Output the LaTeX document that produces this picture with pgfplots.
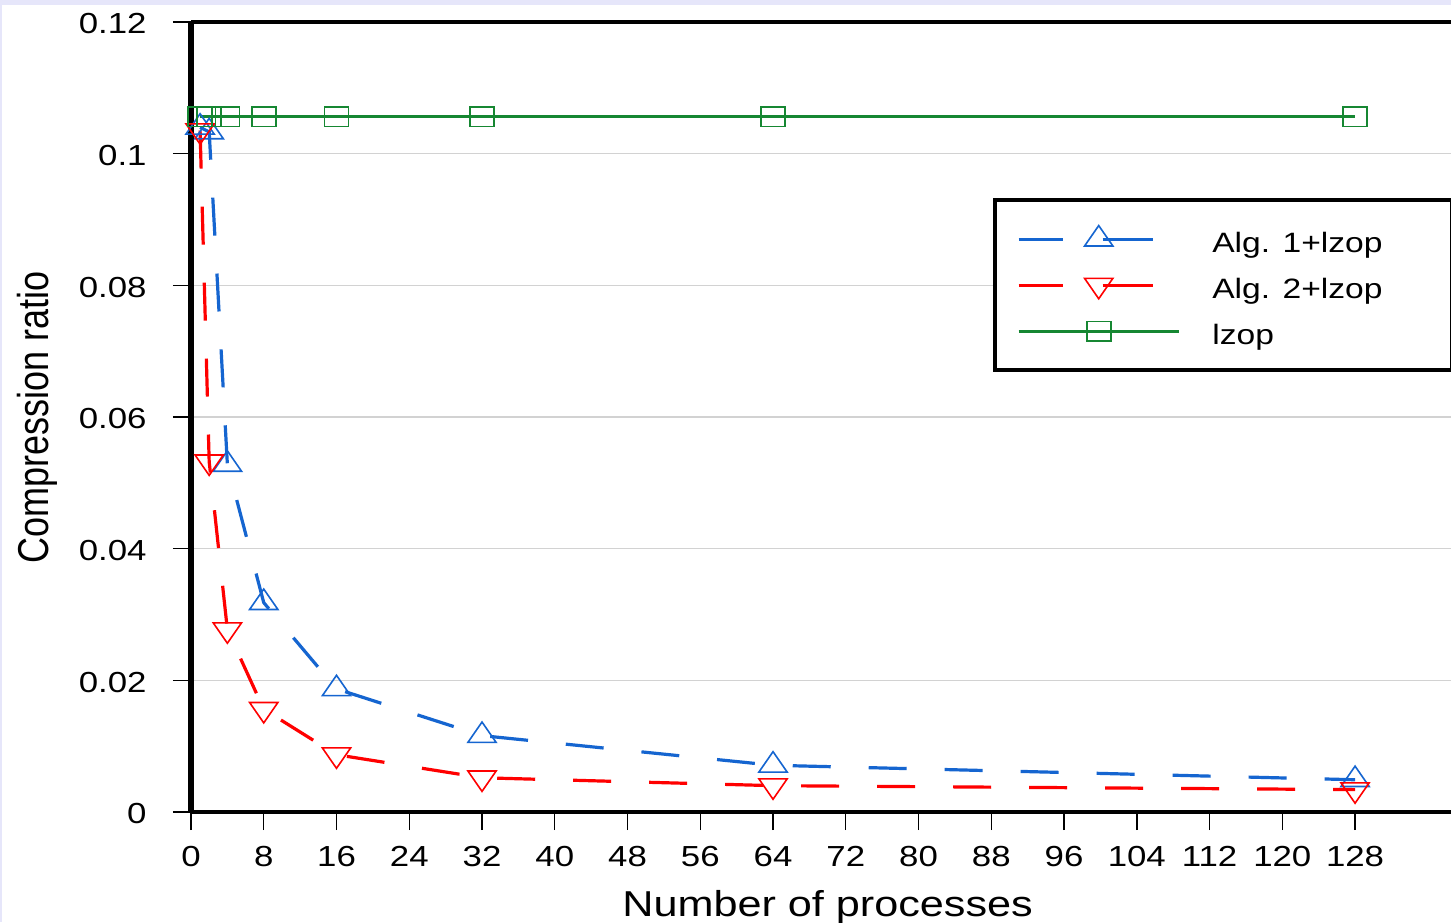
\documentclass[border=0pt]{standalone}
\usepackage{pgfplots}
\pgfplotsset{compat=1.18}
\usepackage{graphicx}
\usepackage{fontspec}
\setmainfont{Liberation Sans}[FakeStretch=1.2]
\newfontfamily\plainsans{Liberation Sans}
\definecolor{cblue}{RGB}{21,101,208}
\definecolor{cred}{RGB}{255,0,0}
\definecolor{cgreen}{RGB}{22,135,50}
\definecolor{lav}{RGB}{230,230,250}
\begin{document}
\begin{tikzpicture}
\fill[lav] (-95.5pt,-55pt) rectangle (630pt,406pt);
\fill[white] (-94.5pt,-55pt) rectangle (630pt,403.5pt);
\begin{axis}[
  at={(0,0)}, anchor=south west,
  scale only axis, width=636.6pt, height=395pt,
  xmin=0, xmax=140, ymin=0, ymax=0.12,
  clip=false,
  xtick={0,8,...,128},
  ytick={0,0.02,0.04,0.06,0.08,0.1,0.12},
  yticklabels={0,0.02,0.04,0.06,0.08,0.1,0.12},
  scaled y ticks=false,
  /pgf/number format/assume math mode=true,
  axis line style={draw=none},
  tick align=outside, major tick length=9pt,
  tick style={black, line width=0.7pt},
  xtick pos=left, ytick pos=left,
  ymajorgrids, major grid style={draw=gray!35, line width=0.6pt},
  yticklabel style={font=\fontsize{14.5}{14.5}\selectfont, anchor=east, inner sep=0pt, yshift=-1pt},
  yticklabel shift=13pt,
  xticklabel style={font=\fontsize{14.5}{14.5}\selectfont, anchor=north, inner sep=0pt},
  xticklabel shift=8pt,
  xlabel={Number of processes},
  xlabel style={at={(axis description cs:0.5,-0.1329)}, anchor=base, font=\fontsize{18}{18}\selectfont, inner sep=0pt},
  ylabel={\scalebox{1}[1.2]{\plainsans\fontsize{18}{18}\selectfont Compression ratio}},
  ylabel style={at={(axis description cs:-0.1123,0.5)}, anchor=base, inner sep=0pt},
  legend style={at={(0.63,0.777)}, anchor=north west, draw=black, line width=2pt,
    inner xsep=11pt, inner ysep=11pt, font=\fontsize{14}{14}\selectfont,
    row sep=6pt, column sep=16pt,
    nodes={inner sep=0pt, text height=15pt, text depth=2pt}},
  legend cell align=left,
]
\addplot[cblue, line width=1.6pt, dash pattern=on 19pt off 19pt,
  mark=triangle, mark size=6.8pt, mark options={solid, xscale=1.2, line width=0.8pt},
  legend image code/.code={\draw[mark repeat=2,mark phase=2, dash pattern=on 22pt off 20pt on 25pt off 5pt] plot coordinates {(0pt,0pt) (40pt,0pt) (67pt,0pt)}; \path (80pt,0pt);}]
  coordinates {(1,0.1040) (2,0.1033) (4,0.0528) (8,0.0318) (16,0.0187) (32,0.0116) (64,0.0071) (128,0.0049)};
\addlegendentry{\makebox[109pt][l]{Alg. 1+lzop}}
\addplot[cred, line width=1.6pt, dash pattern=on 19pt off 19pt,
  mark=triangle, mark size=6.8pt, mark options={solid, rotate=180, xscale=1.2, line width=0.8pt},
  legend image code/.code={\draw[mark repeat=2,mark phase=2, dash pattern=on 22pt off 20pt on 25pt off 5pt] plot coordinates {(0pt,0pt) (40pt,0pt) (67pt,0pt)}; \path (80pt,0pt);}]
  coordinates {(1,0.1035) (2,0.0532) (4,0.0277) (8,0.0156) (16,0.0087) (32,0.0052) (64,0.0040) (128,0.0034)};
\addlegendentry{Alg. 2+lzop}
\addplot[cgreen, line width=1.5pt,
  mark=square, mark size=6pt, mark options={solid, yscale=0.8, line width=0.8pt},
  legend image code/.code={\draw[mark repeat=2,mark phase=2] plot coordinates {(0pt,0pt) (40pt,0pt) (80pt,0pt)};}]
  coordinates {(1,0.1056) (2,0.1056) (4,0.1056) (8,0.1056) (16,0.1056) (32,0.1056) (64,0.1056) (128,0.1056)};
\addlegendentry{lzop}
\draw[black, line width=1.6pt] (rel axis cs:0,0) -- (rel axis cs:1,0);
\draw[black, line width=1.6pt] (rel axis cs:0,1) -- (rel axis cs:1,1);
\draw[black, line width=2.6pt] (rel axis cs:0,0) -- (rel axis cs:0,1);
\end{axis}
\pgfresetboundingbox
\useasboundingbox (-95.5pt,-55pt) rectangle (630pt,406pt);
\end{tikzpicture}
\end{document}
